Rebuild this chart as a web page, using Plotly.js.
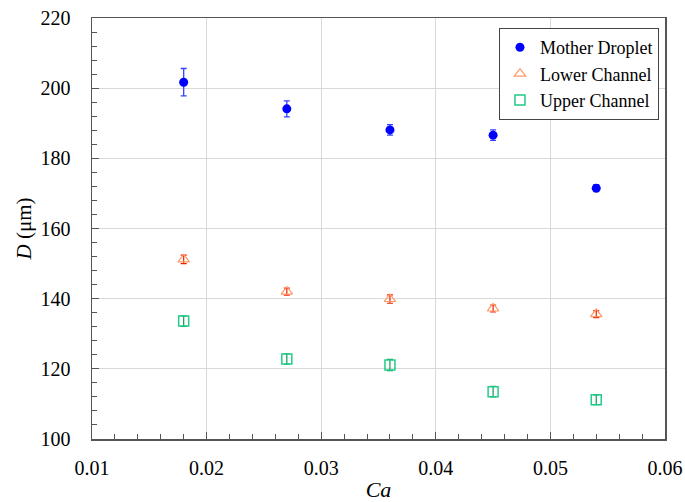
<!DOCTYPE html>
<html>
<head>
<meta charset="utf-8">
<script src="https://cdn.plot.ly/plotly-3.0.1.min.js"></script>
<style>html,body{margin:0;padding:0;background:#fff;}#chart{width:685px;height:502px;}</style>
</head>
<body>
<div id="chart"></div>
<script>
const ca = [0.018, 0.027, 0.036, 0.045, 0.054];
const motherD = [201.7, 194.1, 188.1, 186.6, 171.5];
const motherErr = [3.9, 2.3, 1.5, 1.5, 1.0];
const lowerD = [151.2, 142.0, 139.9, 137.2, 135.6];
const lowerErr = [1.2, 1.0, 1.2, 1.0, 1.0];
const upperD = [133.6, 122.8, 121.1, 113.5, 111.2];
const upperErr = [1.5, 1.5, 1.6, 1.5, 1.4];
const seriesNames = ['Mother Droplet', 'Lower Channel', 'Upper Channel'];

const FONT = 'Liberation Serif';

const traces = [
  {x: ca, y: motherD, name: seriesNames[0], mode: 'markers', type: 'scatter',
   marker: {symbol: 'circle', size: 9, color: '#0000ff'},
   error_y: {type: 'data', array: motherErr, visible: true, color: '#3344ff', thickness: 1.3, width: 3}},
  {x: ca, y: lowerD, name: seriesNames[1], mode: 'markers', type: 'scatter',
   marker: {symbol: 'triangle-up-open', size: 10, color: '#ff9966', line: {width: 1.2}},
   error_y: {type: 'data', array: lowerErr, visible: true, color: '#ee2200', thickness: 1.2, width: 3}},
  {x: ca, y: upperD, name: seriesNames[2], mode: 'markers', type: 'scatter',
   marker: {symbol: 'square-open', size: 10, color: '#22cc88', line: {width: 1.5}},
   error_y: {type: 'data', array: upperErr, visible: true, color: '#119955', thickness: 1.2, width: 3}}
];

const layout = {
  width: 685, height: 502,
  margin: {l: 92, r: 20, t: 18, b: 63},
  paper_bgcolor: '#fff', plot_bgcolor: '#fff',
  font: {family: FONT, size: 18, color: '#000'},
  showlegend: true,
  legend: {x: 0.9895, xanchor: 'right', y: 0.976, yanchor: 'top',
    bordercolor: '#444', borderwidth: 1, bgcolor: '#fff',
    font: {family: FONT, size: 18, color: '#000'}, tracegroupgap: 0},
  xaxis: {
    range: [0.01, 0.06], dtick: 0.01, tick0: 0.01, tickformat: '.2f',
    showgrid: true, gridcolor: '#d9d9d9', gridwidth: 1,
    showline: true, linecolor: '#555', linewidth: 1.5, mirror: true,
    ticks: 'inside', ticklen: 7, tickcolor: '#555', tickwidth: 1,
    ticklabelstandoff: 10,
    minor: {dtick: 0.002, ticks: 'inside', ticklen: 5, tickcolor: '#555', showgrid: false},
    zeroline: false,
    tickfont: {family: FONT, size: 20, color: '#000'},
    title: {text: '<i>Ca</i>', font: {family: FONT, size: 22, color: '#000'}, standoff: 4}
  },
  yaxis: {
    range: [100, 220], dtick: 20, tick0: 100,
    showgrid: true, gridcolor: '#d9d9d9', gridwidth: 1,
    showline: true, linecolor: '#555', linewidth: 1.5, mirror: true,
    ticks: 'inside', ticklen: 7, tickcolor: '#555', tickwidth: 1,
    ticklabelstandoff: 16,
    minor: {dtick: 4, ticks: 'inside', ticklen: 5, tickcolor: '#555', showgrid: false},
    zeroline: false,
    tickfont: {family: FONT, size: 20, color: '#000'},
    title: {text: '<i>D</i> (μm)', font: {family: FONT, size: 21, color: '#000'}, standoff: 3}
  }
};

Plotly.newPlot('chart', traces, layout, {displayModeBar: false, staticPlot: true});
</script>
</body>
</html>
